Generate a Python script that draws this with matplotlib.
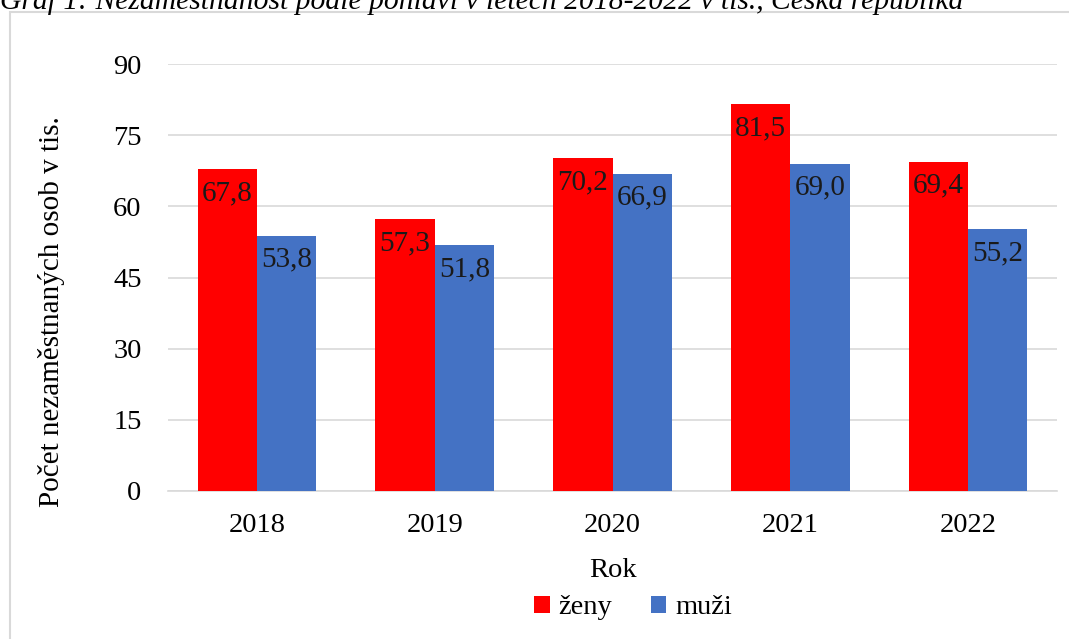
import matplotlib

matplotlib.use("Agg")

import matplotlib.pyplot as plt  # noqa: E402
import numpy as np  # noqa: E402
from matplotlib.patches import Rectangle  # noqa: E402

plt.rcParams["font.family"] = ["Liberation Serif", "DejaVu Serif"]

# data
years = ["2018", "2019", "2020", "2021", "2022"]
zeny = [67.8, 57.3, 70.2, 81.5, 69.4]
muzi = [53.8, 51.8, 66.9, 69.0, 55.2]
y_ticks = [0, 15, 30, 45, 60, 75, 90]

RED = "#FF0000"
BLUE = "#4472C4"
GRID = "#D9D9D9"
TXT = "#1A1A1A"
FS = 20.5

W, H = 1069, 639
fig = plt.figure(figsize=(W / 100, H / 100), dpi=100)

# outer chart frame (partly off the page, like the screenshot)
fig.patches.append(Rectangle((10 / W, -0.1), 1.2, 1 - 12 / H + 0.1,
                             transform=fig.transFigure, fill=False,
                             edgecolor="#D9D9D9", linewidth=1.5))

# caption cut off at the top
fig.text(0.0, 1 - 9 / H, "Graf 1: Nezaměstnanost podle pohlaví v letech 2018-2022 v tis., Česká republika",
         fontsize=21.3, style="italic", ha="left", va="baseline", color="black")

ax = fig.add_axes([168 / W, 1 - 491 / H, (1057 - 168) / W, (491 - 64) / H])

x = np.arange(len(years))
bw = 0.333
b1 = ax.bar(x - bw / 2, zeny, bw, color=RED, label="ženy", zorder=3)
b2 = ax.bar(x + bw / 2, muzi, bw, color=BLUE, label="muži", zorder=3)

for bars, vals in ((b1, zeny), (b2, muzi)):
    for b, v in zip(bars, vals):
        ax.annotate(f"{v:.1f}".replace(".", ","),
                    (b.get_x() + b.get_width() / 2, v),
                    xytext=(0, -8), textcoords="offset points",
                    ha="center", va="top", fontsize=21, color=TXT, zorder=4)

ax.set_xlim(-0.5, len(years) - 0.5)
ax.set_ylim(0, 90)
ax.set_yticks(y_ticks)
ax.set_xticks(x)
ax.set_xticklabels(years)
ax.tick_params(axis="both", length=0, labelsize=FS, colors="black")
ax.tick_params(axis="y", pad=19)
ax.tick_params(axis="x", pad=16)
ax.grid(axis="y", color=GRID, linewidth=1.2, zorder=0)
for s in ("top", "right", "left"):
    ax.spines[s].set_visible(False)
ax.spines["bottom"].set_color(GRID)
ax.spines["bottom"].set_linewidth(1.2)

ax.set_ylabel("Počet nezaměstnaných osob v tis.", fontsize=21, color="black",
              va="center")
ax.yaxis.set_label_coords(-0.131, 0.42)
ax.set_xlabel("Rok", fontsize=FS, color="black", labelpad=14)

fig.legend(handles=[b1, b2], loc="center", bbox_to_anchor=(633 / W, 1 - 608 / H),
           ncol=2, frameon=False, fontsize=FS, handlelength=0.55, handleheight=0.55,
           handletextpad=0.3, columnspacing=1.35)

fig.savefig("out.png", dpi=100)
plt.close(fig)
